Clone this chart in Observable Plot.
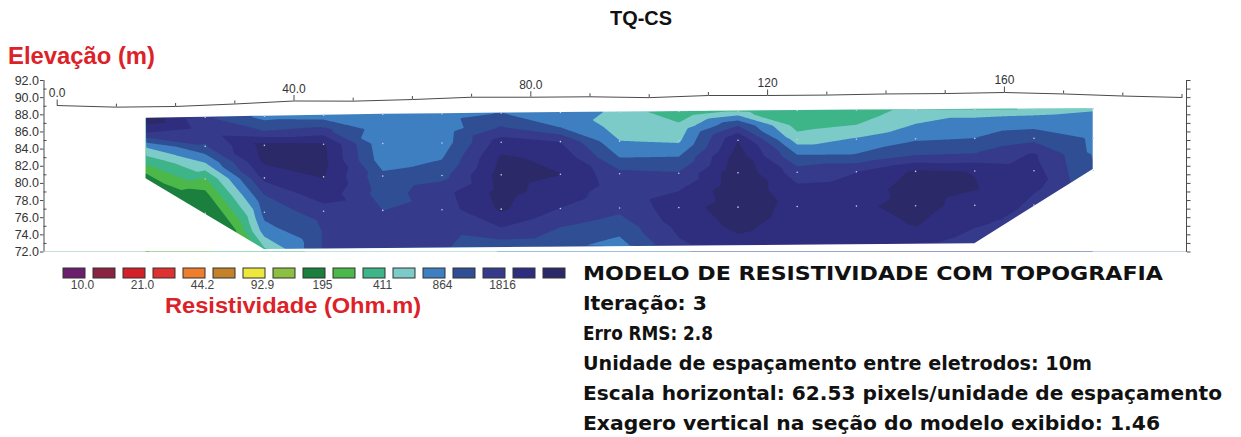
<!DOCTYPE html>
<html>
<head>
<meta charset="utf-8">
<script src="https://cdn.jsdelivr.net/npm/d3@7"></script>
<script src="https://cdn.jsdelivr.net/npm/@observablehq/plot@0.6"></script>
<style>
  html, body { margin: 0; padding: 0; background: #fff; }
  body { width: 1241px; height: 437px; position: relative; overflow: hidden; font-family: "Liberation Sans", Arial, sans-serif; }
  .abs { position: absolute; white-space: nowrap; line-height: 1; }
  .red { color: #dc2228; font-weight: bold; font-family: "Liberation Sans", Arial, sans-serif; }
  .blk { color: #111; font-weight: bold; font-family: "DejaVu Sans", sans-serif; font-size: 20px; }
</style>
</head>
<body>
<div id="chart" class="abs" style="left:0;top:0"></div>
<div id="legend" class="abs" style="left:0;top:258px"></div>
<div id="title" class="abs blk" style="top:8px;font-family:'Liberation Sans',Arial,sans-serif;font-size:20px">TQ-CS</div>
<div id="elev" class="abs red" style="left:8px;top:45px;font-size:23px">Elevação (m)</div>
<div id="resis" class="abs red" style="left:165px;top:295px;font-size:22px">Resistividade (Ohm.m)</div>
<div id="t1" class="abs blk" style="left:583px;top:263px">MODELO DE RESISTIVIDADE COM TOPOGRAFIA</div>
<div id="t2" class="abs blk" style="left:583px;top:293px">Iteração: 3</div>
<div id="t3" class="abs blk" style="left:583px;top:323px">Erro RMS: 2.8</div>
<div id="t4" class="abs blk" style="left:583px;top:353px">Unidade de espaçamento entre eletrodos: 10m</div>
<div id="t5" class="abs blk" style="left:583px;top:383px">Escala horizontal: 62.53 pixels/unidade de espaçamento</div>
<div id="t6" class="abs blk" style="left:583px;top:413px">Exagero vertical na seção do modelo exibido: 1.46</div>
<script>
// ---------------- data ----------------
// resistivity contour limits (Ohm.m) and colour of each band
const thresholds = [10.0, 14.5, 21.0, 30.5, 44.2, 64.1, 92.9, 134.6, 195, 283, 411, 596, 864, 1253, 1816, 2633];
const colors = ["#6b1d6e", "#8a2342", "#d42027", "#e03131", "#ef7d2e", "#c3812a", "#eee73c", "#8bc043",
                "#1b7f3d", "#4cb849", "#3eb489", "#7ccbc8", "#3e7fc2", "#2f4e93", "#353a8b", "#2f2e7e", "#2b2968"];
const legendLabels = ["10.0", "21.0", "44.2", "92.9", "195", "411", "864", "1816"];

// model grid: column positions (m), model top elevation at each column, depth of each node row
const columnX   = [15, 25, 35, 45, 55, 65, 75, 85, 95, 105, 115, 125, 135, 145, 155, 165, 175];
const columnTop = [87.60, 87.72, 87.84, 87.96, 88.05, 88.12, 88.20, 88.27, 88.33, 88.38, 88.43, 88.50, 88.55, 88.60, 88.64, 88.67, 88.70];
const depths    = [0, 1.7, 3.4, 5.3, 7.2, 9.2, 11.2, 13.4, 15.6];

// resistivity (Ohm.m) read at each node, one list per depth row
const rhoDepth00 = [3500, 1300, 750, 700, 750, 720, 870, 700, 560, 290, 440, 300, 320, 480, 480, 500, 560];
const rhoDepth17 = [1800, 1500, 1250, 1400, 700, 680, 1300, 850, 520, 460, 1250, 350, 410, 600, 700, 750, 800];
const rhoDepth34 = [600, 1200, 3000, 2800, 650, 700, 2200, 1800, 600, 560, 2600, 500, 620, 820, 870, 1100, 830];
const rhoDepth53 = [290, 600, 2800, 2900, 700, 860, 2800, 2400, 860, 870, 3200, 900, 900, 1250, 1300, 1900, 840];
const rhoDepth72 = [150, 270, 2000, 2700, 950, 1100, 3100, 2650, 1400, 1300, 3500, 1500, 1800, 2800, 2600, 2300, 900];
const rhoDepth92 = [null, 165, 1250, 2300, 1050, 1600, 3000, 2200, 1500, 1800, 3500, 2000, 2100, 3200, 2700, 2000, null];
const rhoDepth112 = [null, 140, 1000, 1500, 1250, 1500, 2800, 1800, 1400, 2200, 3300, 2300, 2400, 3100, 2200, 1500, null];
const rhoDepth134 = [null, null, 720, 1300, 1500, 1400, 1800, 1250, 1000, 2000, 2900, 2200, 2200, 2700, 1900, null, null];
const rhoDepth156 = [null, null, 380, 1300, 1500, 1300, 1000, 950, 750, 1700, 2300, 2000, 2000, 2000, 1500, null, null];

// extra nodes on the sloping lower edges of the section (x, elevation, resistivity)
const edgeNodeX    = [20, 30, 40, 160, 170];
const edgeNodeElev = [78.48, 74.35, 72.32, 75.13, 79.46];
const edgeNodeRho  = [150, 180, 700, 1700, 1400];

// lower outline of the model section (x, elevation)
const outlineBottomX    = [15, 35, 155, 175];
const outlineBottomElev = [80.54, 72.29, 72.96, 81.62];

// surface topography (electrode positions and elevations)
const topoX    = [0, 10, 20, 30, 40, 50, 60, 70, 80, 90, 100, 110, 120, 130, 140, 150, 160, 170, 180, 190];
const topoElev = [89.08, 88.89, 88.97, 89.26, 89.61, 89.59, 89.78, 90.05, 90.05, 90.10, 90.00, 90.25, 90.25, 90.30, 90.43, 90.48, 90.60, 90.43, 90.19, 90.02];
const topoLabelX    = [0, 40, 80, 120, 160];
const topoLabelText = ["0.0", "40.0", "80.0", "120", "160"];

// elevation axis ticks
const yLabelTicks = [72, 74, 76, 78, 80, 82, 84, 86, 88, 90, 92];
const yMinorTicks = [73, 75, 77, 79, 81, 83, 85, 87, 89, 91];
const yAllTicks   = [72, 73, 74, 75, 76, 77, 78, 79, 80, 81, 82, 83, 84, 85, 86, 87, 88, 89, 90, 91, 92];

// ---------------- build tables ----------------
const rhoRows = [rhoDepth00, rhoDepth17, rhoDepth34, rhoDepth53, rhoDepth72, rhoDepth92, rhoDepth112, rhoDepth134, rhoDepth156];
const nodes = [];
rhoRows.forEach((row, j) => row.forEach((v, i) => {
  if (v != null) nodes.push({x: columnX[i], elev: columnTop[i] - depths[j], rho: v, row: j, col: i});
}));
edgeNodeX.forEach((x, i) => nodes.push({x, elev: edgeNodeElev[i], rho: edgeNodeRho[i], row: -1, col: -1}));
const dotNodes = nodes.filter(d => (d.row === 0 || d.row === 2 || d.row === 4 || d.row === 6) && d.col > 0);
const logThresholds = thresholds.map(Math.log10);

const xMin = -2.23, xMax = 190.76, yMin = 72, yMax = 92;
const pxPerM = (251.5 - 80) / (yMax - yMin);

const lastTop = columnTop[columnTop.length - 1];
const topData = [{x: xMin, top: columnTop[0]}, ...columnX.map((x, i) => ({x, top: columnTop[i]})), {x: xMax, top: lastTop}];
const bottomData = [
  {x: xMin, elev: outlineBottomElev[0]},
  ...outlineBottomX.map((x, i) => ({x, elev: outlineBottomElev[i]})),
  {x: xMax, elev: outlineBottomElev[outlineBottomElev.length - 1]}
];
const topo = topoX.map((x, i) => ({x, elev: topoElev[i], major: topoLabelX.includes(x)}));
const topoLabels = topoLabelX.map((x, i) => ({x, elev: topoElev[topoX.indexOf(x)], text: topoLabelText[i]}));

const axisColor = "#4a4a4a";

const chart = Plot.plot({
  width: 1241, height: 262,
  marginLeft: 43.5, marginRight: 55, marginTop: 80, marginBottom: 10.5,
  x: {domain: [xMin, xMax], axis: null},
  y: {domain: [yMin, yMax], axis: null, label: null},
  color: {type: "threshold", domain: logThresholds, range: colors},
  style: {fontFamily: "'Liberation Sans', Arial, sans-serif", background: "transparent"},
  marks: [
    Plot.contour(nodes, {x: "x", y: "elev", fill: d => Math.log10(d.rho), thresholds: logThresholds, interpolate: "barycentric", pixelSize: 1}),
    // white masks outside the model section
    Plot.rect([0], {x1: xMin, x2: columnX[0], y1: yMin, y2: yMax, fill: "white"}),
    Plot.rect([0], {x1: columnX[columnX.length - 1], x2: xMax, y1: yMin, y2: yMax, fill: "white"}),
    Plot.areaY(topData, {x: "x", y1: "top", y2: yMax, fill: "white"}),
    Plot.areaY(bottomData, {x: "x", y1: yMin, y2: "elev", fill: "white"}),
    Plot.dot(dotNodes, {x: "x", y: "elev", r: 0.8, fill: "#c9cde6", stroke: "none"}),
    // topography profile
    Plot.line(topo, {x: "x", y: "elev", stroke: axisColor, strokeWidth: 1}),
    Plot.ruleX(topo, {x: "x", y1: "elev", y2: d => d.elev + (d.major ? 5.5 : 3) / pxPerM, stroke: axisColor, strokeWidth: 1}),
    Plot.text(topoLabels, {x: "x", y: "elev", dy: -12, text: "text", fontSize: 12, fill: "#333"}),
    // left elevation axis
    Plot.ruleX([xMin], {stroke: axisColor}),
    Plot.axisY({anchor: "left", ticks: yLabelTicks, tickFormat: d => d.toFixed(1), tickSize: 3.5, tickPadding: 1.5, fontSize: 12.5, fill: "#333", stroke: axisColor, label: null}),
    Plot.axisY({anchor: "left", ticks: yMinorTicks, tickFormat: () => "", tickSize: 3, dx: 3, stroke: axisColor, label: null}),
    // right axis
    Plot.ruleX([xMax], {stroke: axisColor}),
    Plot.axisY({anchor: "right", ticks: yAllTicks, tickFormat: () => "", tickSize: 3.5, stroke: axisColor, label: null})
  ]
});
document.getElementById("chart").appendChild(chart);

// legend
const legendIdx = colors.map((c, i) => i);
const S = 30.2, B = 22.5, L0 = 61;
const legend = Plot.plot({
  width: 600, height: 44, marginTop: 10, marginBottom: 24, marginLeft: 0, marginRight: 0,
  x: {type: "band", domain: legendIdx, range: [L0 - (S - B) / 2, L0 - (S - B) / 2 + colors.length * S],
      paddingInner: (S - B) / S, paddingOuter: (S - B) / (2 * S), axis: null},
  color: {type: "identity"},
  style: {fontFamily: "'Liberation Sans', Arial, sans-serif", background: "transparent"},
  marks: [
    Plot.cell(legendIdx, {x: d => d, fill: d => colors[d], stroke: "#333", strokeWidth: 1}),
    Plot.text(legendLabels, {x: (d, i) => 2 * i, text: d => d, frameAnchor: "bottom", dy: 10, dx: 8, fontSize: 12, fill: "#444"})
  ]
});
document.getElementById("legend").appendChild(legend);

// fit text widths to the reference layout
function fit(id, w, center) {
  const el = document.getElementById(id);
  const r = el.getBoundingClientRect().width;
  el.style.transformOrigin = "0 0";
  el.style.transform = `scaleX(${w / r})`;
  if (center != null) el.style.left = (center - w / 2) + "px";
}
fit("title", 62, 641);
fit("elev", 147);
fit("resis", 256);
fit("t1", 580); fit("t2", 124); fit("t3", 130); fit("t4", 509); fit("t5", 639); fit("t6", 577);
</script>
</body>
</html>
